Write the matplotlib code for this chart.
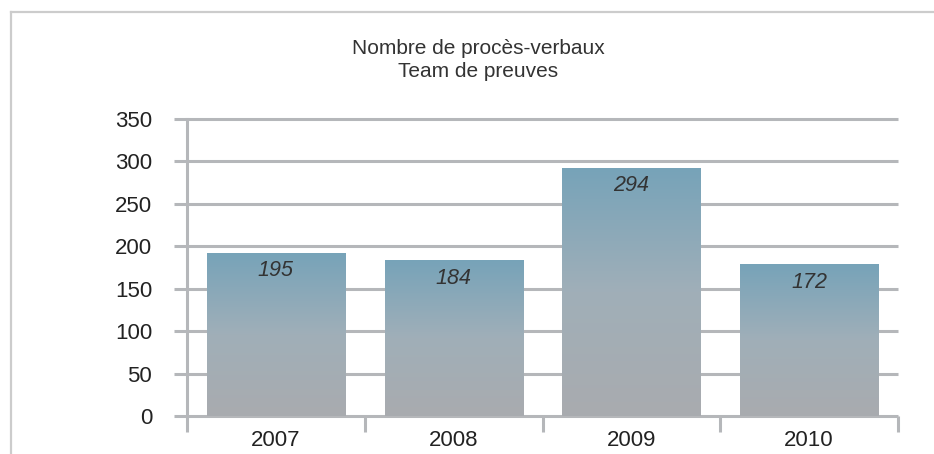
import numpy as np
import matplotlib.pyplot as plt
from matplotlib.colors import LinearSegmentedColormap
from matplotlib.lines import Line2D

plt.rcParams['font.family'] = ['Liberation Sans', 'DejaVu Sans']

years = ['2007', '2008', '2009', '2010']
bar_heights = [192, 183, 292, 178]
bar_labels = ['195', '184', '294', '172']
y_ticks = [0, 50, 100, 150, 200, 250, 300, 350]
title = 'Nombre de procès-verbaux\nTeam de preuves'

grid_col = '#b5b7ba'
txt_col = '#222222'


def main():
    fig = plt.figure(facecolor='w', figsize=(9.34, 4.54), dpi=100)
    ax = fig.add_axes([174/934., 1-416/454., 724/934., 297/454.])

    x0 = -13/177.5
    ax.set_xlim(x0, 4.0)
    ax.set_ylim(0, 350)

    # grid lines incl. the base line
    ax.hlines(y_ticks, x0, 4.0, colors=grid_col, linewidth=2.2, clip_on=False, zorder=1)

    cmap = LinearSegmentedColormap.from_list('g', ['#a9abaf', '#a0afb8', '#77a3b9'])
    grad = np.linspace(0, 1, 256).reshape(-1, 1)
    w = 0.777
    for i, (h, lab) in enumerate(zip(bar_heights, bar_labels)):
        xc = i + 0.5
        ax.imshow(grad, cmap=cmap, origin='lower', aspect='auto',
                  extent=(xc - w/2, xc + w/2, 0, h), zorder=2)
        ax.annotate(lab, (xc, h), xytext=(0, -12.5), textcoords='offset points',
                    ha='center', va='center', fontsize=15.5, style='italic',
                    color='#333333', zorder=3)
    ax.set_xlim(x0, 4.0)
    ax.set_ylim(0, 350)

    for s in ['top', 'right', 'bottom']:
        ax.spines[s].set_visible(False)
    ax.spines['left'].set_position(('data', 0))
    ax.spines['left'].set_bounds(0, 350)
    ax.spines['left'].set_color(grid_col)
    ax.spines['left'].set_linewidth(2.2)
    ax.spines['left'].set_zorder(1)

    ax.set_yticks(y_ticks)
    ax.set_yticklabels([str(v) for v in y_ticks], fontsize=16, color=txt_col)
    ax.tick_params(axis='y', length=0, pad=25)

    ax.set_xticks([i + 0.5 for i in range(len(years))])
    ax.set_xticklabels(years, fontsize=16, color=txt_col)
    ax.tick_params(axis='x', which='major', length=0, pad=10)
    ax.set_xticks(range(len(years) + 1), minor=True)
    ax.tick_params(axis='x', which='minor', length=11.5, width=2.2, color=grid_col, direction='out')

    fig.text(478/934., 1-60/454., title, ha='center', va='center', fontsize=15,
             color='#333333', linespacing=1.25)

    # frame lines of the outer box
    fig.add_artist(Line2D([11/934., 11/934.], [0, 1-12/454.], color='#cccccc', linewidth=1.6))
    fig.add_artist(Line2D([11/934., 1], [1-12/454., 1-12/454.], color='#cccccc', linewidth=1.6))

    plt.savefig('out.png', dpi=100, facecolor='w')
    plt.close('all')


if __name__ == '__main__':
    main()
